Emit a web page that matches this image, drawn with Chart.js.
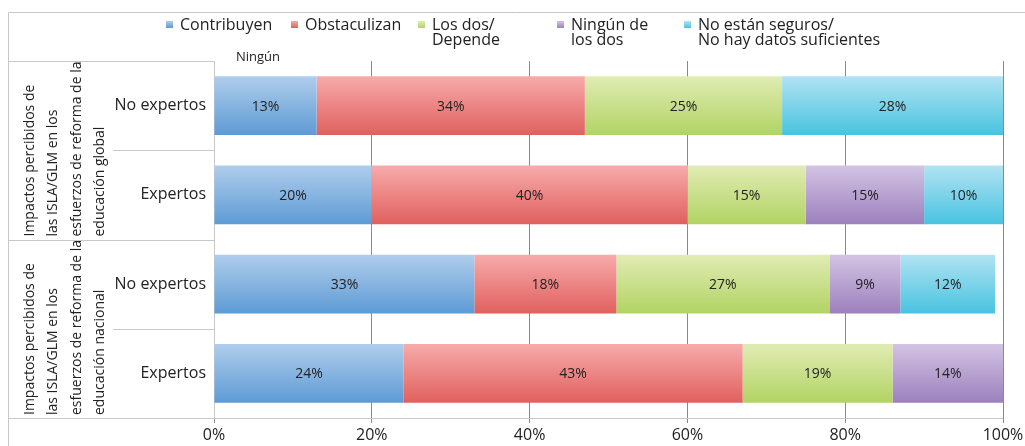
<!DOCTYPE html>
<html>
<head>
<meta charset="utf-8">
<script src="https://cdn.jsdelivr.net/npm/chart.js@4/dist/chart.umd.min.js"></script>
<style>
  body { margin: 0; background: #fff; }
  #chart { display: block; }
</style>
</head>
<body>
<canvas id="chart" width="1025" height="446"></canvas>
<script>
// categories (top to bottom)
const categories = ['No expertos', 'Expertos', 'No expertos', 'Expertos'];
const groupLabels = [
    ['Impactos percibidos de', 'las ISLA/GLM en los', 'esfuerzos de reforma de la', 'educación global'],
    ['Impactos percibidos de', 'las ISLA/GLM en los', 'esfuerzos de reforma de la', 'educación nacional']
];

// series (percent)
const contribuyen = [13, 20, 33, 24];
const obstaculizan = [34, 40, 18, 43];
const losDos = [25, 15, 27, 19];
const ninguno = [0, 15, 9, 14];
const noSeguros = [28, 10, 12, 0];

const seriesNames = [
    ['Contribuyen'],
    ['Obstaculizan'],
    ['Los dos/', 'Depende'],
    ['Ningún de', 'los dos'],
    ['No están seguros/', 'No hay datos suficientes']
];
const xTicks = [0, 20, 40, 60, 80, 100];

// colours: [top, bottom] of the bar gradient
const colors = [
    ['#b0cdec', '#5d9bd5'],
    ['#f7abab', '#e0605e'],
    ['#e1ecb4', '#b1d363'],
    ['#d3c4e4', '#9c80bd'],
    ['#b1e3f3', '#48c3e0']
];

const FONT = '"Open Sans", sans-serif';
const TEXT = '#222';

// vertical gradient per bar
function barFill(i) {
    return function (context) {
        const chart = context.chart;
        const yScale = chart.scales.y;
        if (!chart.chartArea || !yScale) return colors[i][1];
        const y = yScale.getPixelForValue(context.dataIndex);
        const half = (yScale.height / categories.length) * 0.66 / 2;
        const g = chart.ctx.createLinearGradient(0, y - half, 0, y + half);
        g.addColorStop(0, colors[i][0]);
        g.addColorStop(1, colors[i][1]);
        return g;
    };
}

// table lines, group labels, legend, data labels
const decorPlugin = {
    id: 'decor',
    beforeDatasetsDraw(chart) {
        const ctx = chart.ctx;
        const area = chart.chartArea;
        const yScale = chart.scales.y;
        const step = yScale.height / categories.length;
        ctx.save();
        ctx.strokeStyle = '#c8c8c8';
        ctx.lineWidth = 1;
        ctx.beginPath();
        // outer frame
        ctx.moveTo(8.5, 12.5); ctx.lineTo(1025, 12.5);
        ctx.moveTo(8.5, 12.5); ctx.lineTo(8.5, 446);
        // table rows
        for (let i = 0; i <= categories.length; i++) {
            const y = Math.round(area.top + i * step) + 0.5;
            const x0 = (i % 2 === 0) ? 8 : 113;
            ctx.moveTo(x0, y); ctx.lineTo(area.left, y);
        }
        // axes
        ctx.moveTo(area.left + 0.5, area.top); ctx.lineTo(area.left + 0.5, area.bottom);
        ctx.moveTo(area.left, area.bottom + 0.5); ctx.lineTo(area.right, area.bottom + 0.5);
        ctx.stroke();
        ctx.restore();
    },
    afterDraw(chart) {
        const ctx = chart.ctx;
        const area = chart.chartArea;
        const yScale = chart.scales.y;
        const step = yScale.height / categories.length;

        // rotated group labels
        ctx.save();
        ctx.fillStyle = TEXT;
        ctx.font = '14px ' + FONT;
        ctx.textAlign = 'left';
        ctx.textBaseline = 'middle';
        const lineX = [30, 53, 77, 100];
        groupLabels.forEach((lines, g) => {
            const bottom = area.top + (g + 1) * 2 * step - 3;
            lines.forEach((txt, j) => {
                ctx.save();
                ctx.translate(lineX[j], bottom);
                ctx.rotate(-Math.PI / 2);
                ctx.fillText(txt, 0, 0);
                ctx.restore();
            });
        });
        ctx.restore();

        // legend
        ctx.save();
        ctx.font = '16px ' + FONT;
        ctx.textBaseline = 'middle';
        ctx.textAlign = 'left';
        const markerX = [166, 291, 418, 557, 684];
        seriesNames.forEach((lines, i) => {
            const g = ctx.createLinearGradient(0, 21, 0, 28);
            g.addColorStop(0, colors[i][0]);
            g.addColorStop(1, colors[i][1]);
            ctx.fillStyle = g;
            ctx.fillRect(markerX[i], 21, 7, 7);
            ctx.fillStyle = TEXT;
            lines.forEach((txt, j) => {
                ctx.fillText(txt, markerX[i] + 14, 25 + j * 15);
            });
        });
        // stray label above the plot
        ctx.font = '13px ' + FONT;
        ctx.textAlign = 'center';
        ctx.fillText('Ningún', 258, 57);
        ctx.restore();
    },
    afterDatasetsDraw(chart) {
        const ctx = chart.ctx;
        ctx.save();
        ctx.fillStyle = TEXT;
        ctx.font = '14px ' + FONT;
        ctx.textAlign = 'center';
        ctx.textBaseline = 'middle';
        chart.data.datasets.forEach((ds, i) => {
            const meta = chart.getDatasetMeta(i);
            meta.data.forEach((el, j) => {
                const v = ds.data[j];
                if (!v) return;
                ctx.fillText(v + '%', (el.x + el.base) / 2, el.y + 1);
            });
        });
        ctx.restore();
    }
};

const allSeries = [contribuyen, obstaculizan, losDos, ninguno, noSeguros];

new Chart(document.getElementById('chart'), {
    type: 'bar',
    data: {
        labels: categories,
        datasets: allSeries.map((data, i) => ({
            label: seriesNames[i].join(' '),
            data: data,
            backgroundColor: barFill(i),
            borderWidth: 0,
            barPercentage: 0.66,
            categoryPercentage: 1
        }))
    },
    options: {
        indexAxis: 'y',
        responsive: false,
        animation: false,
        layout: { padding: { top: 61, right: 22, left: 0, bottom: 0 } },
        plugins: {
            legend: { display: false },
            tooltip: { enabled: false }
        },
        scales: {
            x: {
                stacked: true,
                min: 0,
                max: 100,
                afterBuildTicks: scale => { scale.ticks = xTicks.map(v => ({ value: v })); },
                afterFit: scale => {
                    scale.height = 28;
                    scale.paddingRight = 0; // let layout padding decide the right edge
                    scale.paddingLeft = 0;
                },
                border: { display: false },
                grid: {
                    color: c => c.index === 0 ? 'rgba(0,0,0,0)' : '#8a8a8a',
                    tickColor: '#8a8a8a',
                    tickLength: 5
                },
                ticks: {
                    padding: 3,
                    color: TEXT,
                    font: { family: FONT, size: 16 },
                    callback: v => v + '%'
                }
            },
            y: {
                stacked: true,
                afterFit: scale => { scale.width = 214; },
                border: { display: false },
                grid: { display: false, drawTicks: false },
                ticks: {
                    padding: 8,
                    color: TEXT,
                    font: { family: FONT, size: 16 }
                }
            }
        }
    },
    plugins: [decorPlugin]
});
</script>
</body>
</html>
